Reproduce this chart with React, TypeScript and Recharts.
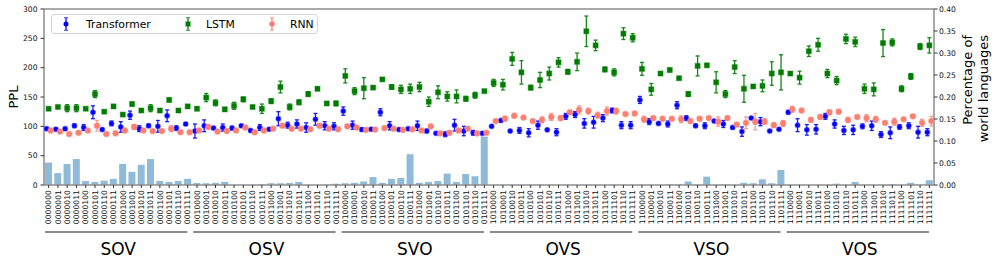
import React from 'react'
import { Bar, ComposedChart, ErrorBar, ReferenceLine, Scatter, XAxis, YAxis } from 'recharts'

// word-order groups; each holds 16 configurations (prefix + 4 switch bits)
const GROUPS = ['SOV', 'OSV', 'SVO', 'OVS', 'VSO', 'VOS']
const GROUP_PREFIXES = ['000', '001', '010', '101', '110', '111']
const SUFFIXES = [
  '0000', '0001', '0010', '0011', '0100', '0101', '0110', '0111',
  '1000', '1001', '1010', '1011', '1100', '1101', '1110', '1111',
]

const TRANSFORMER_PPL = [
  96, 95, 96, 101, 98, 124, 94.5, 105, 99, 119, 96, 101, 100, 118, 97, 104,
  92, 101, 97, 98, 97, 101, 93, 98, 95, 113, 102, 104, 98, 112, 101, 100,
  126, 102, 94.5, 95, 124, 101, 94.5, 96, 101, 92, 88, 86.5, 102, 92, 89, 88,
  100, 110, 92, 93, 89, 102, 94, 90, 117, 120, 105, 107, 114, 127, 102, 102,
  145, 108, 105, 104, 136, 114, 101, 101, 109, 104, 98, 91, 114, 108, 92, 95,
  124, 102, 94, 95, 117, 104, 93, 94, 100, 101, 86, 89, 99, 101, 90, 90,
]
const TRANSFORMER_ERR = [
  2, 2, 2, 3, 5, 11, 2, 4, 9, 7, 5, 3, 10, 10, 4, 2,
  12, 10, 2, 6, 3, 2, 2, 5, 2, 12, 5, 7, 8, 10, 7, 6,
  7, 7, 3, 2, 6, 7, 2, 2, 8, 3, 2, 4, 10, 8, 4, 2,
  2, 1, 2, 5, 7, 7, 2, 6, 5, 5, 8, 10, 6, 4, 6, 6,
  6, 5, 2, 5, 6, 4, 3, 5, 2, 6, 2, 8, 2, 7, 2, 2,
  3, 11, 9, 8, 5, 7, 7, 8, 4, 8, 5, 10, 4, 5, 10, 6,
]
const LSTM_PPL = [
  130, 133, 131, 131, 130, 155, 125, 134, 120, 138, 127, 131, 127, 145, 127, 134,
  130, 149, 140, 129, 135, 146, 133, 130, 143, 167, 133, 141, 155, 164, 139, 139,
  186, 160, 165, 166, 180, 167, 163, 164, 167, 142, 158, 151, 151, 147, 153, 160,
  174, 171, 215, 192, 166, 179, 190, 209, 193, 210, 262, 238, 197, 192, 258, 251,
  198, 163, 190, 196, 182, 155, 203, 204, 175, 155, 201, 164, 168, 169, 190, 192,
  190, 183, 228, 239, 190, 178, 249, 244, 164, 163, 242, 243, 164, 185, 236, 238,
]
const LSTM_ERR = [
  2, 2, 6, 6, 2, 6, 2, 3, 1, 3, 2, 6, 2, 3, 2, 3,
  3, 7, 5, 3, 6, 4, 2, 8, 4, 10, 5, 4, 4, 3, 3, 4,
  12, 6, 18, 2, 1, 4, 7, 8, 8, 8, 11, 8, 11, 4, 5, 2,
  6, 9, 11, 20, 4, 13, 11, 8, 4, 15, 26, 9, 4, 6, 10, 7,
  11, 10, 3, 3, 2, 4, 17, 2, 18, 6, 11, 23, 2, 10, 20, 30,
  2, 11, 9, 11, 7, 7, 8, 8, 8, 11, 23, 6, 5, 5, 5, 13,
]
const RNN_PPL = [
  93, 91, 87, 89, 93, 101, 87, 88, 93, 99, 93, 92, 92, 96, 90, 90,
  93, 99, 91, 92, 93, 98, 90, 93, 96, 101, 96, 96, 95, 101, 96, 95,
  100, 98, 94, 94.5, 97, 96, 94, 95, 93, 100, 88, 89, 93, 96, 88, 89,
  109, 113, 118, 115, 109, 111, 116, 114, 124, 128, 126, 119, 126, 126, 121, 122,
  112, 114, 113, 113, 112, 109, 113, 114, 108, 114, 103, 106, 108, 108, 102, 105,
  129, 127, 111, 116, 124, 125, 111, 116, 114, 112, 106, 108, 112, 117, 106, 109,
]
const RNN_ERR = [
  2, 2, 2, 2, 2, 9, 2, 2, 2, 4, 2, 2, 2, 5, 2, 2,
  2, 2, 2, 2, 2, 3, 2, 2, 2, 3, 2, 2, 2, 3, 2, 2,
  2, 2, 2, 2, 2, 2, 2, 2, 2, 2, 2, 3, 2, 2, 2, 2,
  2, 4, 3, 2, 2, 5, 6, 4, 2, 7, 5, 5, 7, 5, 2, 2,
  5, 2, 2, 2, 6, 3, 2, 2, 8, 3, 2, 10, 14, 5, 4, 5,
  5, 2, 4, 4, 4, 2, 4, 2, 6, 5, 2, 6, 2, 3, 6, 8,
]
// share of world languages (right axis)
const LANG_SHARE = [
  0.051, 0.027, 0.048, 0.059, 0.009, 0.007, 0.01, 0.014, 0.048, 0.03, 0.046, 0.059, 0.009, 0.007, 0.009, 0.014,
  0.0045, 0.004, 0.005, 0.007, 0, 0, 0, 0.0015, 0.004, 0.004, 0.0045, 0.007, 0, 0, 0, 0.003,
  0.004, 0.005, 0.008, 0.018, 0.005, 0.014, 0.016, 0.07, 0.005, 0.007, 0.009, 0.026, 0.007, 0.025, 0.02, 0.11,
  0, 0, 0, 0, 0, 0, 0, 0, 0, 0, 0, 0, 0, 0, 0, 0,
  0, 0, 0, 0.001, 0.001, 0.008, 0.001, 0.019, 0, 0.001, 0, 0.005, 0.004, 0.013, 0.004, 0.034,
  0, 0, 0, 0, 0, 0.003, 0, 0.007, 0, 0, 0, 0.0015, 0, 0.005, 0, 0.011,
]

const PPL_TICKS = [0, 50, 100, 150, 200, 250, 300]
const SHARE_TICKS = [0, 0.05, 0.1, 0.15, 0.2, 0.25, 0.3, 0.35, 0.4]

const LABELS = GROUP_PREFIXES.flatMap((p) => SUFFIXES.map((s) => p + s))
const N = LABELS.length
const GROUP_CENTERS = GROUPS.map((_, g) => g * SUFFIXES.length + (SUFFIXES.length - 1) / 2)

const rows = LABELS.map((label, i) => ({
  label,
  idx: i,
  t: TRANSFORMER_PPL[i],
  tErr: TRANSFORMER_ERR[i],
  l: LSTM_PPL[i],
  lErr: LSTM_ERR[i],
  r: RNN_PPL[i],
  rErr: RNN_ERR[i],
  share: LANG_SHARE[i],
}))

const W = 997
const H = 273
const LEFT_W = 44
const RIGHT_W = 63
const PLOT_W = W - LEFT_W - RIGHT_W
const BAND = PLOT_W / N
const DODGE = 0.22 // series offset, in category widths
const SPINE = '#8c8c8c'
const FONT = '"DejaVu Sans", sans-serif'

const BLUE = '#0000ff'
const GREEN = '#007d00'
const SALMON = '#fa8072'

const TransformerDot = (p: any) => (
  <circle cx={p.cx} cy={p.cy} r={2.5} fill={BLUE} stroke="rgba(70,70,255,0.45)" strokeWidth={1.2} />
)
const LstmDot = (p: any) => (
  <rect x={p.cx - 2.5} y={p.cy - 2.5} width={5} height={5} fill={GREEN} stroke="rgba(0,128,0,0.4)" strokeWidth={1.2} />
)
const RnnDot = (p: any) => (
  <circle cx={p.cx} cy={p.cy} r={2.8} fill={SALMON} stroke="rgba(250,128,114,0.45)" strokeWidth={1.2} />
)

function CodeTick(props: any) {
  const { x, y, payload } = props
  return (
    <text
      x={x}
      y={y}
      transform={`rotate(-90, ${x}, ${y})`}
      textAnchor="end"
      dy="0.36em"
      fontSize={7.7}
      fill="#111"
      fontFamily={FONT}
    >
      {payload.value}
    </text>
  )
}

function GroupTick(props: any) {
  const { x, y, index } = props
  return (
    <g>
      <line x1={x - 7.9 * BAND} x2={x + 7.45 * BAND} y1={y + 3} y2={y + 3} stroke={SPINE} strokeWidth={2} />
      <text x={x} y={y + 26} textAnchor="middle" fontSize={17} fill="#000" fontFamily={FONT}>
        {GROUPS[index]}
      </text>
    </g>
  )
}

function LeftLabel(props: any) {
  const vb = props.viewBox
  const x = vb.x + 18
  const y = vb.y + vb.height / 2
  return (
    <text x={x} y={y} transform={`rotate(-90, ${x}, ${y})`} textAnchor="middle" fontSize={13} fill="#000" fontFamily={FONT}>
      PPL
    </text>
  )
}

function RightLabel(props: any) {
  const vb = props.viewBox
  const y = vb.y + 26
  const x1 = vb.x + 37.5
  const x2 = vb.x + 53.5
  return (
    <g fontSize={13} fill="#000" fontFamily={FONT}>
      <text x={x1} y={y} transform={`rotate(-90, ${x1}, ${y})`} textAnchor="end">
        Percentage of
      </text>
      <text x={x2} y={y} transform={`rotate(-90, ${x2}, ${y})`} textAnchor="end">
        world languages
      </text>
    </g>
  )
}

function LegendHandle({ x, color, capColor, marker }: { x: number; color: string; capColor: string; marker: 'c' | 's' | 'r' }) {
  const cy = 10
  return (
    <g>
      <line x1={x} x2={x} y1={cy - 6.3} y2={cy + 6.3} stroke={color} strokeWidth={1.3} />
      <line x1={x - 2} x2={x + 2} y1={cy - 6.3} y2={cy - 6.3} stroke={capColor} strokeWidth={1.3} />
      <line x1={x - 2} x2={x + 2} y1={cy + 6.3} y2={cy + 6.3} stroke={capColor} strokeWidth={1.3} />
      {marker === 's' ? (
        <rect x={x - 2.5} y={cy - 2.5} width={5} height={5} fill={color} />
      ) : (
        <circle cx={x} cy={cy} r={marker === 'r' ? 2.8 : 2.5} fill={color} />
      )}
    </g>
  )
}

function ChartLegend() {
  return (
    <div
      style={{
        position: 'absolute',
        left: 51,
        top: 14,
        width: 267,
        height: 20,
        boxSizing: 'border-box',
        border: '1px solid #d4d4d4',
        borderRadius: 3,
        background: 'rgba(255,255,255,0.8)',
      }}
    >
      <svg width={267} height={20} style={{ position: 'absolute', left: -1, top: -1 }}>
        <g fontSize={10.8} fontFamily={FONT} fill="#000">
          <LegendHandle x={15} color={BLUE} capColor="#5c5cff" marker="c" />
          <text x={35} y={13.9}>Transformer</text>
          <LegendHandle x={137} color={GREEN} capColor="#55a555" marker="s" />
          <text x={155} y={13.9}>LSTM</text>
          <LegendHandle x={221} color={SALMON} capColor="#f8b0a6" marker="r" />
          <text x={239} y={13.9}>RNN</text>
        </g>
      </svg>
    </div>
  )
}

export default function App() {
  return (
    <div style={{ position: 'absolute', left: 0, top: 0, width: W, height: H, fontFamily: FONT, background: '#fff' }}>
      <ComposedChart width={W} height={H} data={rows} margin={{ top: 9, right: 0, bottom: 0, left: 0 }}>
        <XAxis
          xAxisId="cat"
          dataKey="label"
          type="category"
          interval={0}
          height={44}
          tick={CodeTick}
          tickSize={3}
          tickMargin={2}
          axisLine={{ stroke: SPINE, strokeWidth: 1.5 }}
          tickLine={{ stroke: '#333' }}
        />
        <XAxis
          xAxisId="grp"
          dataKey="idx"
          type="number"
          domain={[-0.5, N - 0.5]}
          allowDataOverflow
          ticks={GROUP_CENTERS}
          interval={0}
          height={44}
          tick={GroupTick}
          tickSize={0}
          tickMargin={0}
          axisLine={false}
          tickLine={false}
        />
        <XAxis xAxisId="t" dataKey="idx" type="number" domain={[-0.5 + DODGE, N - 0.5 + DODGE]} allowDataOverflow hide />
        <XAxis xAxisId="l" dataKey="idx" type="number" domain={[-0.5, N - 0.5]} allowDataOverflow hide />
        <XAxis xAxisId="r" dataKey="idx" type="number" domain={[-0.5 - DODGE, N - 0.5 - DODGE]} allowDataOverflow hide />
        <YAxis
          yAxisId="ppl"
          orientation="left"
          width={LEFT_W}
          domain={[0, 300]}
          ticks={PPL_TICKS}
          allowDataOverflow
          tick={{ fontSize: 7.6, fill: '#111' }}
          tickSize={3.5}
          tickMargin={3}
          axisLine={{ stroke: SPINE, strokeWidth: 1.5 }}
          tickLine={{ stroke: '#333' }}
          label={{ content: LeftLabel }}
        />
        <YAxis
          yAxisId="share"
          orientation="right"
          width={RIGHT_W}
          domain={[0, 0.4]}
          ticks={SHARE_TICKS}
          allowDataOverflow
          tickFormatter={(v: number) => v.toFixed(2)}
          tick={{ fontSize: 7.6, fill: '#111' }}
          tickSize={3.5}
          tickMargin={1.5}
          axisLine={{ stroke: SPINE, strokeWidth: 1.5 }}
          tickLine={{ stroke: '#333' }}
          label={{ content: RightLabel }}
        />
        <ReferenceLine xAxisId="cat" yAxisId="ppl" y={300} stroke={SPINE} strokeWidth={1.5} />
        <Bar xAxisId="cat" yAxisId="share" dataKey="share" barSize={7} fill="#8fbbd9" isAnimationActive={false} />
        <Scatter xAxisId="t" yAxisId="ppl" data={rows} dataKey="t" shape={TransformerDot} isAnimationActive={false}>
          <ErrorBar dataKey="tErr" direction="y" width={2} strokeWidth={1.3} stroke="#1a1aff" />
        </Scatter>
        <Scatter xAxisId="l" yAxisId="ppl" data={rows} dataKey="l" shape={LstmDot} isAnimationActive={false}>
          <ErrorBar dataKey="lErr" direction="y" width={2} strokeWidth={1.3} stroke="#168a16" />
        </Scatter>
        <Scatter xAxisId="r" yAxisId="ppl" data={rows} dataKey="r" shape={RnnDot} isAnimationActive={false}>
          <ErrorBar dataKey="rErr" direction="y" width={2} strokeWidth={1.3} stroke="#f6a095" />
        </Scatter>
      </ComposedChart>
      <ChartLegend />
    </div>
  )
}
